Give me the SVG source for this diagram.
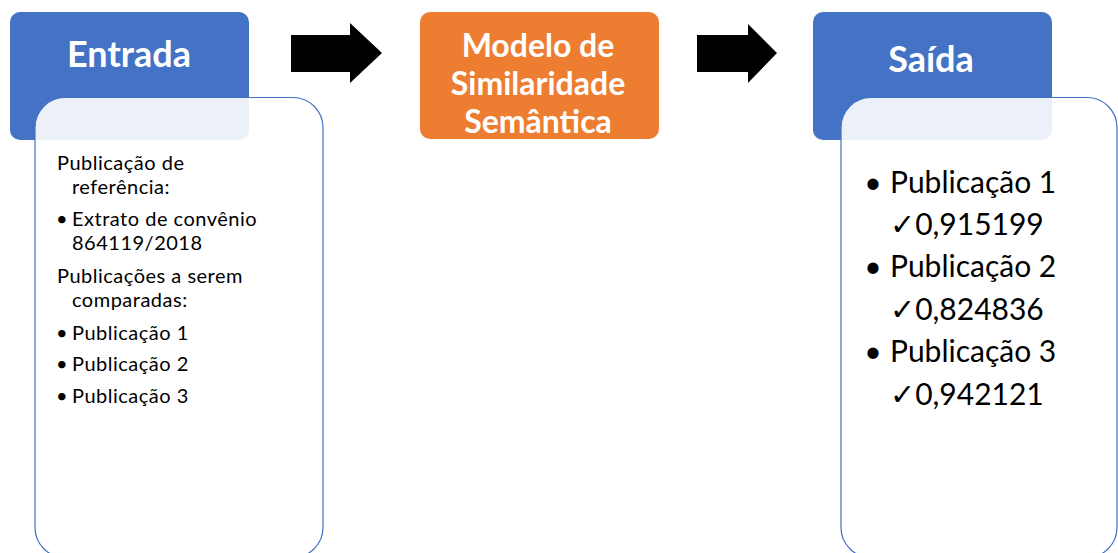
<svg xmlns="http://www.w3.org/2000/svg" width="1118" height="553" viewBox="0 0 1118 553">
<style>
.hdr{fill:#4472C4}
.org{fill:#ED7D31}
.box{fill:#FFFFFF;fill-opacity:0.9;stroke:#4472C4;stroke-width:1.2}
.ttl{font-family:Lato,"Noto Sans",sans-serif;font-weight:bold;fill:#FFFFFF;text-anchor:middle}
.t{font-family:Lato,"DejaVu Sans",sans-serif;fill:#000000}
.l{font-size:20px;letter-spacing:0.5px}
.r{font-size:30px}
.bul{text-anchor:middle}
.arr{fill:#000000}
</style>
<rect width="1118" height="553" fill="#FFFFFF"/>
<g id="entrada">
<rect class="hdr" x="10" y="12" width="239" height="128" rx="10"/>
<text class="ttl" x="129" y="67" font-size="36">Entrada</text>
</g>
<g id="entrada-lista">
<rect class="box" x="35" y="97.5" width="288" height="460" rx="30"/>
<text class="t l" x="57" y="170">Publicação de</text>
<text class="t l" x="72" y="194">referência:</text>
<text class="t l bul" x="62" y="226">•</text>
<text class="t l" x="72" y="226">Extrato de convênio</text>
<text class="t l" x="72" y="250">864119/2018</text>
<text class="t l" x="57" y="283">Publicações a serem</text>
<text class="t l" x="72" y="307">comparadas:</text>
<text class="t l bul" x="62" y="340">•</text>
<text class="t l" x="72" y="340">Publicação 1</text>
<text class="t l bul" x="62" y="371">•</text>
<text class="t l" x="72" y="371">Publicação 2</text>
<text class="t l bul" x="62" y="403">•</text>
<text class="t l" x="72" y="403">Publicação 3</text>
</g>
<g id="modelo">
<rect class="org" x="420" y="12" width="239" height="127" rx="10"/>
<text class="ttl" x="538" y="57" font-size="32">Modelo de</text>
<text class="ttl" x="538" y="95" font-size="32">Similaridade</text>
<text class="ttl" x="538" y="133" font-size="32">Semântica</text>
</g>
<g id="saida">
<rect class="hdr" x="813" y="12" width="239" height="128" rx="10"/>
<text class="ttl" x="931" y="72" font-size="36">Saída</text>
</g>
<g id="saida-lista">
<rect class="box" x="841" y="97.5" width="276" height="460" rx="30"/>
<text class="t r bul" x="873" y="193">•</text>
<text class="t r" x="890" y="193">Publicação 1</text>
<text class="t r" x="890" y="235">✓0,915199</text>
<text class="t r bul" x="873" y="277">•</text>
<text class="t r" x="890" y="277">Publicação 2</text>
<text class="t r" x="890" y="320">✓0,824836</text>
<text class="t r bul" x="873" y="362">•</text>
<text class="t r" x="890" y="362">Publicação 3</text>
<text class="t r" x="890" y="405">✓0,942121</text>
</g>
<g id="connectors">
<polygon class="arr" points="291,35 350,35 350,23 382,53 350,83 350,72 291,72"/>
<polygon class="arr" points="697,35 748,35 748,24 777,53 748,83 748,72 697,72"/>
</g>
</svg>
